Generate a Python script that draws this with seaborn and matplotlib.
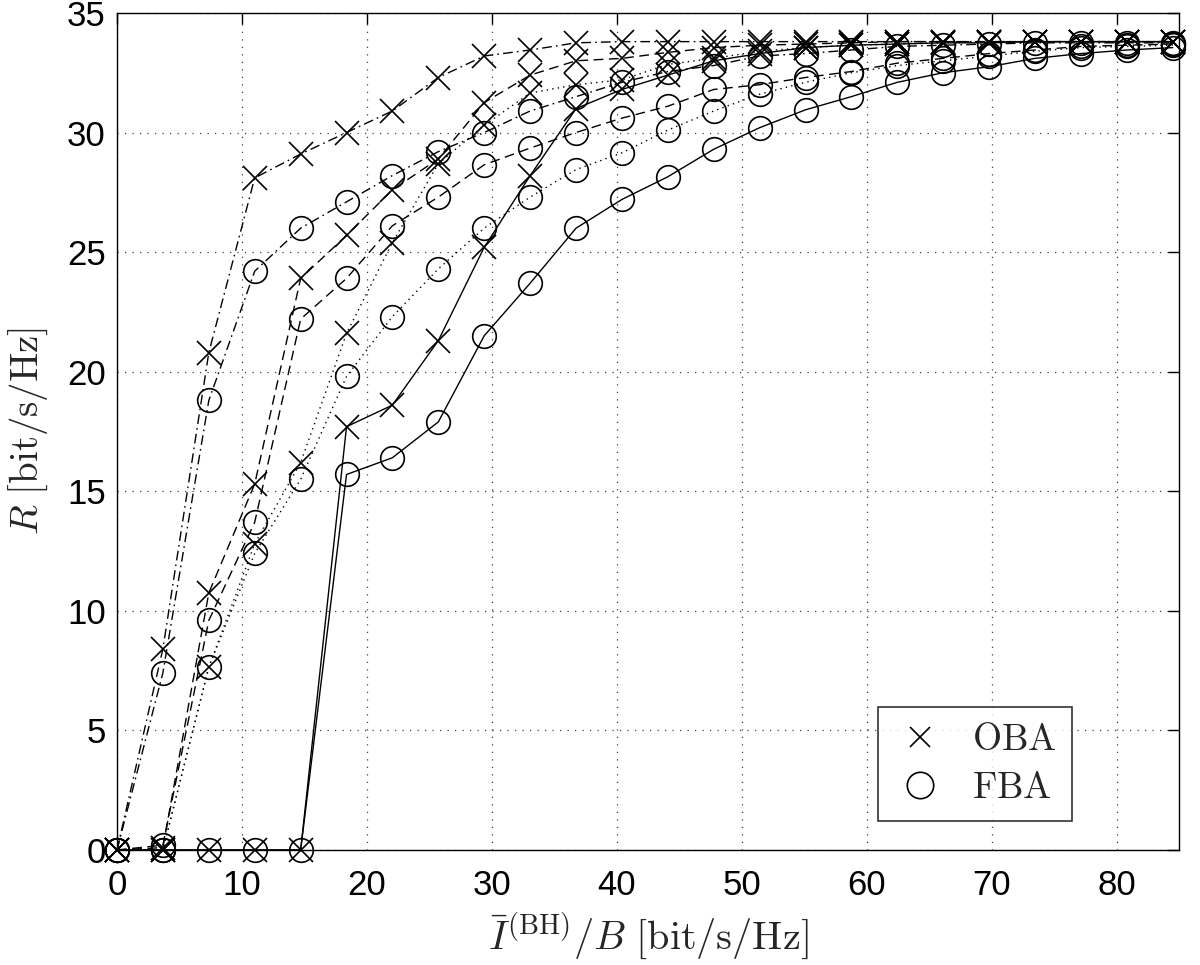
import pandas as pd
import matplotlib
matplotlib.use("Agg")
import matplotlib.pyplot as plt
from matplotlib.lines import Line2D
import seaborn as sns


# Os X: srednia pojemnosc backhaulu na jednostke pasma
capacity = [0, 3.67, 7.35, 11.02, 14.7, 18.37, 22.04, 25.72, 29.39, 33.07, 36.74, 40.41,
            44.09, 47.76, 51.43, 55.11, 58.78, 62.46, 66.13, 69.8, 73.48, 77.15, 80.83, 84.5]

# OBA (krzyzyki)
oba_dashdot = [0, 8.4, 20.8, 28.1, 29.1, 30.0, 30.9, 32.3, 33.2, 33.45, 33.75, 33.8,
               33.8, 33.8, 33.8, 33.8, 33.8, 33.8, 33.8, 33.8, 33.8, 33.8, 33.8, 33.8]
oba_dashed = [0, 0.1, 10.75, 15.3, 23.9, 25.7, 27.6, 28.9, 31.25, 32.4, 33.0, 33.1,
              33.35, 33.55, 33.65, 33.7, 33.75, 33.8, 33.8, 33.8, 33.8, 33.8, 33.8, 33.8]
oba_dotted = [0, 0, 7.65, 12.8, 16.2, 21.6, 25.4, 28.7, 30.3, 31.65, 32.0, 32.2,
              32.85, 33.1, 33.4, 33.55, 33.65, 33.7, 33.75, 33.8, 33.8, 33.8, 33.8, 33.8]
oba_solid = [0, 0, 0, 0, 0, 17.7, 18.6, 21.3, 25.2, 28.2, 31.0, 31.8,
             32.4, 33.0, 33.3, 33.55, 33.65, 33.7, 33.75, 33.75, 33.8, 33.8, 33.8, 33.8]

# FBA (kolka)
fba_dashdot = [0, 7.4, 18.8, 24.2, 26.0, 27.1, 28.2, 29.2, 30.0, 30.9, 31.5, 32.1,
               32.55, 32.8, 33.2, 33.3, 33.45, 33.6, 33.65, 33.7, 33.75, 33.75, 33.75, 33.75]
fba_dashed = [0, 0.2, 9.6, 13.7, 22.2, 23.9, 26.1, 27.3, 28.65, 29.35, 30.0, 30.6,
              31.1, 31.8, 32.0, 32.3, 32.55, 32.9, 33.1, 33.3, 33.45, 33.6, 33.65, 33.7]
fba_dotted = [0, 0, 7.65, 12.4, 15.5, 19.8, 22.3, 24.3, 26.0, 27.3, 28.45, 29.15,
              30.1, 30.9, 31.6, 32.1, 32.5, 32.8, 33.0, 33.2, 33.4, 33.55, 33.6, 33.65]
fba_solid = [0, 0, 0, 0, 0, 15.7, 16.4, 17.9, 21.5, 23.7, 26.0, 27.2,
             28.15, 29.3, 30.2, 30.95, 31.5, 32.1, 32.5, 32.75, 33.1, 33.3, 33.45, 33.55]

x_ticks = [0, 10, 20, 30, 40, 50, 60, 70, 80]
y_ticks = [0, 5, 10, 15, 20, 25, 30, 35]
legend_labels = ["OBA", "FBA"]

series = {
    ("OBA", "solid"): oba_solid, ("FBA", "solid"): fba_solid,
    ("OBA", "dashed"): oba_dashed, ("FBA", "dashed"): fba_dashed,
    ("OBA", "dotted"): oba_dotted, ("FBA", "dotted"): fba_dotted,
    ("OBA", "dashdot"): oba_dashdot, ("FBA", "dashdot"): fba_dashdot,
}

# Tabela w formacie long
rows = []
for (scheme, style), values in series.items():
    for xv, yv in zip(capacity, values):
        rows.append({"capacity": xv, "R": yv, "scheme": scheme, "style": style})
df = pd.DataFrame(rows)

sns.set_style("white")
plt.rcParams["font.family"] = ["Liberation Sans", "DejaVu Sans"]
plt.rcParams["mathtext.fontset"] = "cm"

line_styles = {
    "solid": "-",
    "dashed": (0, (7, 4)),
    "dotted": (0, (1, 3)),
    "dashdot": (0, (7, 3, 1.2, 3)),
}
markers = {"OBA": "x", "FBA": "o"}

fig = plt.figure(figsize=(12, 9.65), dpi=100)
ax = fig.add_axes([0.0975, 0.1192, 0.885, 0.8674])

for (scheme, style), sub in df.groupby(["scheme", "style"], sort=False):
    sns.lineplot(data=sub, x="capacity", y="R", ax=ax, color="k",
                 linestyle=line_styles[style], linewidth=1.0,
                 marker=markers[scheme], markersize=17,
                 markerfacecolor="none", markeredgecolor="k", markeredgewidth=1.2,
                 legend=False, estimator=None, sort=False, clip_on=False, zorder=3)

ax.set_xlim(0, 85)
ax.set_ylim(0, 35)
ax.set_xticks(x_ticks)
ax.set_yticks(y_ticks)
ax.tick_params(direction="in", top=True, right=True, length=8, width=1,
               labelsize=25, pad=8, colors="k")
ax.tick_params(axis="x", pad=14)
ax.grid(True, color="0.25", linestyle=(0, (1, 5)), linewidth=0.9)
for sp in ax.spines.values():
    sp.set_color("k")
    sp.set_linewidth(1.0)
    sp.set_zorder(2)

ax.set_xlabel(r"$\bar{I}^{(\mathrm{BH})}/B\ [\mathrm{bit/s/Hz}]$", fontsize=29, labelpad=6)
ax.set_ylabel(r"$R\ [\mathrm{bit/s/Hz}]$", fontsize=28, labelpad=12)

handles = [Line2D([], [], linestyle="none", marker="x", markersize=15, color="k",
                  markeredgewidth=1.2),
           Line2D([], [], linestyle="none", marker="o", markersize=19, markerfacecolor="none",
                  markeredgecolor="k", markeredgewidth=1.2)]
leg = ax.legend(handles, legend_labels, loc="lower right", bbox_to_anchor=(0.899, 0.035),
                borderaxespad=0, frameon=True, fancybox=False, edgecolor="k",
                prop={"family": "serif", "size": 27, "math_fontfamily": "cm"},
                handletextpad=0.7, labelspacing=0.3, borderpad=0.4, handlelength=1.4)
leg.get_frame().set_linewidth(1.2)
leg.set_zorder(5)
for t in leg.get_texts():
    t.set_text(r"$\mathrm{" + t.get_text() + "}$")

fig.savefig("out.png", dpi=100)
